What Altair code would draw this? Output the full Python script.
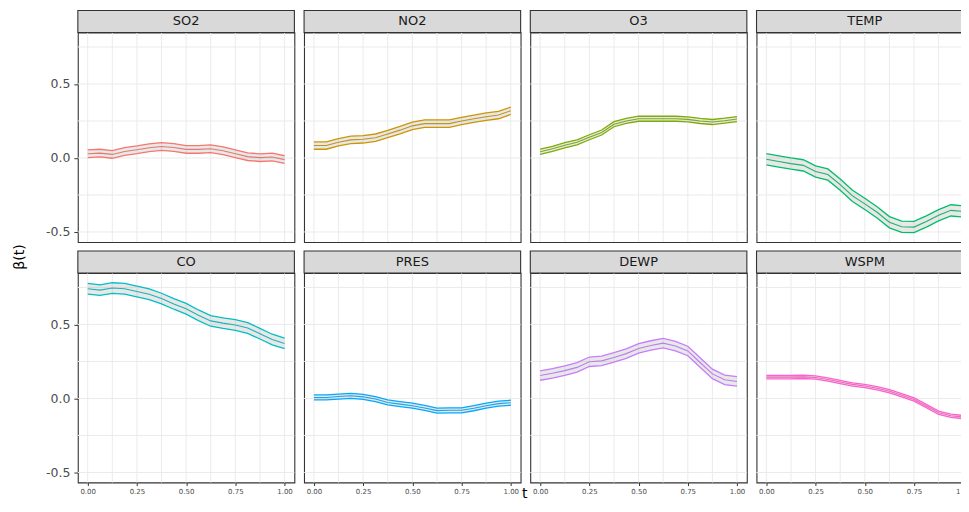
import altair as alt
import pandas as pd

FONT = "DejaVu Sans"

PANELS = ["SO2", "NO2", "O3", "TEMP", "CO", "PRES", "DEWP", "WSPM"]
COLORS = ["#F8766D", "#CD9600", "#7CAE00", "#00BE67", "#00BFC4", "#00A9FF", "#C77CFF", "#FF61CC"]

T = [0.0, 0.0625, 0.125, 0.1875, 0.25, 0.3125, 0.375, 0.4375, 0.5,
     0.5625, 0.625, 0.6875, 0.75, 0.8125, 0.875, 0.9375, 1.0]

SO2 = [0.029, 0.033, 0.024, 0.044, 0.055, 0.069, 0.077, 0.071, 0.058, 0.058, 0.062, 0.049, 0.029, 0.009, 0.002, 0.007, -0.011]
NO2 = [0.084, 0.084, 0.106, 0.122, 0.126, 0.137, 0.162, 0.188, 0.217, 0.232, 0.232, 0.232, 0.250, 0.265, 0.279, 0.290, 0.319]
O3 = [0.042, 0.062, 0.086, 0.106, 0.140, 0.172, 0.228, 0.250, 0.265, 0.265, 0.265, 0.265, 0.261, 0.250, 0.243, 0.252, 0.263]
TEMP = [-0.009, -0.024, -0.038, -0.050, -0.091, -0.112, -0.180, -0.256, -0.310, -0.367, -0.434, -0.465, -0.467, -0.429, -0.387, -0.354, -0.361]
CO = [0.741, 0.732, 0.746, 0.741, 0.723, 0.704, 0.675, 0.639, 0.606, 0.562, 0.524, 0.509, 0.496, 0.476, 0.438, 0.398, 0.372]
PRES = [0.007, 0.007, 0.013, 0.018, 0.011, -0.004, -0.027, -0.038, -0.049, -0.064, -0.082, -0.080, -0.080, -0.066, -0.049, -0.035, -0.029]
DEWP = [0.155, 0.170, 0.188, 0.210, 0.248, 0.254, 0.277, 0.303, 0.338, 0.358, 0.374, 0.354, 0.321, 0.243, 0.166, 0.126, 0.115]
WSPM = [0.144, 0.144, 0.144, 0.146, 0.142, 0.128, 0.111, 0.095, 0.084, 0.069, 0.049, 0.022, -0.007, -0.051, -0.097, -0.117, -0.126]
CENTERS = [SO2, NO2, O3, TEMP, CO, PRES, DEWP, WSPM]

# half-width of the confidence band in each panel
HALF = [0.026, 0.025, 0.017, 0.038, 0.036, 0.017, 0.032, 0.011]

GRID_T = [0.0, 0.125, 0.25, 0.375, 0.5, 0.625, 0.75, 0.875, 1.0]
GRID_B = [-0.5, -0.25, 0.0, 0.25, 0.5, 0.75]
X_TICKS = [0.0, 0.25, 0.5, 0.75, 1.0]
Y_TICKS = [-0.5, 0.0, 0.5]

Y_TITLE = "β(t)"
X_TITLE = "t"

W, H, STRIP = 217, 210, 22
XS = alt.Scale(domain=[-0.05, 1.05], nice=False, zero=False)
YS = alt.Scale(domain=[-0.568, 0.848], nice=False, zero=False)


def make_panel(i, show_y, show_x):
    name, color = PANELS[i], COLORS[i]
    c = CENTERS[i]
    df = pd.DataFrame({
        "t": T,
        "center": c,
        "lower": [v - HALF[i] for v in c],
        "upper": [v + HALF[i] for v in c],
    })
    if show_x:
        xaxis = alt.Axis(values=X_TICKS, format=".2f", labelFont=FONT, labelFontSize=7,
                         labelColor="#4D4D4D", tickColor="#333333", tickSize=3, tickWidth=1,
                         labelPadding=2, grid=False, domain=False, title=None, labelFlush=False)
    else:
        xaxis = None
    if show_y:
        yaxis = alt.Axis(values=Y_TICKS, labelFont=FONT, labelFontSize=12.5, labelColor="#4D4D4D",
                         tickColor="#333333", tickSize=4, tickWidth=1, labelPadding=4,
                         grid=False, domain=False, title=None,
                         labelExpr="datum.value < 0 ? '-' + format(-datum.value, '.1f') : format(datum.value, '.1f')")
    else:
        yaxis = None

    def xe(field="t"):
        return alt.X(f"{field}:Q", scale=XS, axis=xaxis)

    def ye(field):
        return alt.Y(f"{field}:Q", scale=YS, axis=yaxis)

    vgrid = alt.Chart(pd.DataFrame({"t": GRID_T})).mark_rule(color="#EBEBEB", strokeWidth=1).encode(x=xe())
    hgrid = alt.Chart(pd.DataFrame({"b": GRID_B})).mark_rule(color="#EBEBEB", strokeWidth=1).encode(y=ye("b"))
    center = alt.Chart(df).mark_line(color=color, strokeWidth=1.1).encode(x=xe(), y=ye("center"))
    band = alt.Chart(df).mark_area(color="#8C8C8C", opacity=0.2).encode(x=xe(), y=ye("lower"), y2="upper:Q")
    bounds = [alt.Chart(df).mark_line(color=color, strokeWidth=1.3).encode(x=xe(), y=ye(col))
              for col in ["lower", "upper"]]
    sdf = pd.DataFrame({"name": [name]})
    strip = alt.Chart(sdf).mark_rect(fill="#D9D9D9", stroke="#333333", strokeWidth=1.1).encode(
        x=alt.value(0), x2=alt.value(W), y=alt.value(-STRIP), y2=alt.value(0))
    stext = alt.Chart(sdf).mark_text(font=FONT, fontSize=13, color="#1A1A1A", baseline="middle",
                                     align="center").encode(
        x=alt.value(W / 2), y=alt.value(-STRIP / 2), text="name:N")
    layers = [vgrid, hgrid, center, band, *bounds, strip, stext]
    if i == 4:
        # shared y-axis title, drawn to the left of the CO panel
        layers.append(alt.Chart(pd.DataFrame({"lab": [Y_TITLE]})).mark_text(
            font=FONT, fontSize=14, color="black", baseline="middle", align="center", angle=270).encode(
            x=alt.value(-58), y=alt.value(-16), text="lab:N"))
    if i == 5:
        # shared x-axis title, centred under the panel grid
        layers.append(alt.Chart(pd.DataFrame({"lab": [X_TITLE]})).mark_text(
            font=FONT, fontSize=14, color="black", baseline="middle", align="center").encode(
            x=alt.value(221), y=alt.value(222), text="lab:N"))
    return alt.layer(*layers).properties(width=W, height=H)


panels = [make_panel(i, i in (0, 4), i >= 4) for i in range(8)]

chart = alt.concat(*panels, columns=4, spacing={"row": 31, "column": 9.7}, bounds="flush").properties(
    padding={"top": 0, "left": 4, "right": -14, "bottom": 0}
).configure_view(stroke="#333333", strokeWidth=1.1)

chart.save("out.html", embed_options={"renderer": "svg", "actions": False})
